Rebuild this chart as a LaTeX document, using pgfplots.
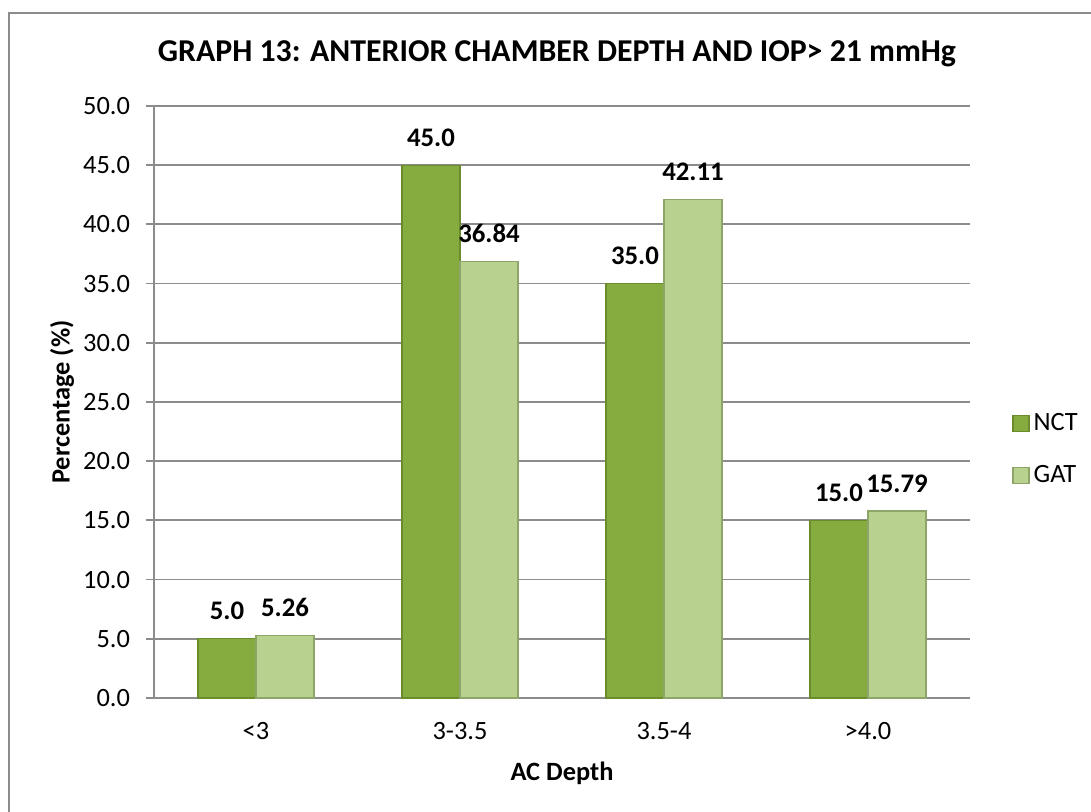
\documentclass[border=0pt]{standalone}
\usepackage{pgfplots}
\pgfplotsset{compat=1.18}
\usepackage{fontspec}
\setmainfont{Carlito}
\definecolor{nct}{HTML}{86AC40}
\definecolor{nctb}{HTML}{6A8C2C}
\definecolor{gat}{HTML}{B8D18E}
\definecolor{gatb}{HTML}{8EA56A}
\definecolor{gridc}{HTML}{8C8C8C}
\begin{document}
\begin{tikzpicture}
\path[use as bounding box] (0,0) rectangle (545.5pt,406pt);
\draw[gridc, line width=0.9pt] (545.5pt,399.5pt) -- (4.5pt,399.5pt) -- (4.5pt,0pt);
\begin{axis}[
  at={(77pt,57pt)}, anchor=south west,
  scale only axis,
  width=408pt, height=296pt,
  ybar=0pt, bar width=29pt,
  xmin=-0.5, xmax=3.5, ymin=0, ymax=50,
  xtick={0,1,2,3}, xticklabels={{<3},{3-3.5},{3.5-4},{>4.0}},
  ytick={0,5,...,50},
  yticklabel={\pgfmathprintnumber[fixed,fixed zerofill,precision=1]{\tick}},
  /pgf/number format/assume math mode=true,
  tick label style={font=\fontsize{13.2}{16}\selectfont},
  xticklabel style={yshift=-4.5pt},
  yticklabel style={xshift=-4.5pt},
  axis x line*=bottom, axis y line*=left,
  axis line style={gridc, line width=0.9pt, -},
  major x tick style={draw=none},
  major y tick style={gridc, line width=0.9pt},
  tick align=outside, major tick length=4pt,
  ymajorgrids, grid style={gridc, line width=0.9pt},
  xlabel={AC Depth},
  ylabel={Percentage (\%)},
  every axis x label/.style={at={(axis description cs:0.5,0)}, anchor=center, yshift=-37.5pt, font=\bfseries\fontsize{13.2}{16}\selectfont},
  every axis y label/.style={at={(axis description cs:-0.1127,0.5)}, anchor=center, rotate=90, font=\bfseries\fontsize{13.2}{16}\selectfont},
  title={GRAPH 13: ANTERIOR CHAMBER DEPTH AND IOP> 21 mmHg},
  title style={font=\bfseries\fontsize{15.9}{19}\selectfont, at={(axis description cs:0.5,1)}, anchor=center, yshift=20pt, xshift=-2.5pt},
  nodes near coords,
  nodes near coords style={font=\bfseries\fontsize{13.4}{16}\selectfont, anchor=base, yshift=9.5pt},
  legend style={draw=none, at={(axis description cs:1,0.42)}, anchor=west, xshift=21pt,
    inner sep=0pt, row sep=12pt, font=\fontsize{13.2}{16}\selectfont,
    legend cell align=left},
  legend image code/.code={\draw[#1] (0pt,-4pt) rectangle (8pt,4pt);},
  clip=false,
]
\addplot[fill=nct, draw=nctb, line width=0.6pt,
  nodes near coords={\pgfmathprintnumber[fixed,fixed zerofill,precision=1]{\pgfplotspointmeta}}]
  coordinates {(0,5.0) (1,45.0) (2,35.0) (3,15.0)};
\addplot[fill=gat, draw=gatb, line width=0.6pt,
  nodes near coords={\pgfmathprintnumber[fixed,fixed zerofill,precision=2]{\pgfplotspointmeta}}]
  coordinates {(0,5.26) (1,36.84) (2,42.11) (3,15.79)};
\legend{NCT,GAT}
\end{axis}
\end{tikzpicture}
\end{document}
